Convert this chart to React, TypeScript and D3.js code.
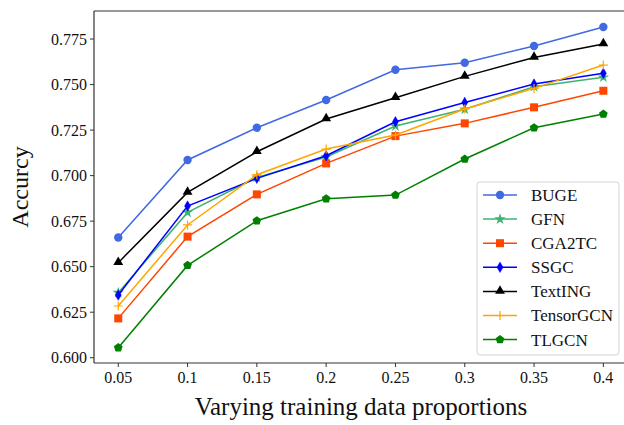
import React from "react";
import * as d3 from "d3";

const proportions = [0.05, 0.1, 0.15, 0.2, 0.25, 0.3, 0.35, 0.4];
const xTickLabels = ["0.05", "0.1", "0.15", "0.2", "0.25", "0.3", "0.35", "0.4"];
const yTicks = [0.6, 0.625, 0.65, 0.675, 0.7, 0.725, 0.75, 0.775];

const seriesNames = ["BUGE", "GFN", "CGA2TC", "SSGC", "TextING", "TensorGCN", "TLGCN"];
const BUGE = [0.666, 0.7086, 0.7263, 0.7415, 0.7581, 0.762, 0.7712, 0.7816];
const GFN = [0.6357, 0.6798, 0.699, 0.7102, 0.7272, 0.7364, 0.7488, 0.754];
const CGA2TC = [0.6216, 0.6665, 0.6897, 0.7067, 0.7217, 0.7287, 0.7375, 0.7466];
const SSGC = [0.6344, 0.6833, 0.6985, 0.7109, 0.7296, 0.7402, 0.7503, 0.7562];
const TextING = [0.6522, 0.6908, 0.7131, 0.7311, 0.7428, 0.7545, 0.7649, 0.7723];
const TensorGCN = [0.6284, 0.6729, 0.7005, 0.7146, 0.7223, 0.7366, 0.7479, 0.7607];
const TLGCN = [0.6055, 0.6507, 0.6752, 0.6873, 0.6893, 0.7091, 0.7263, 0.7338];

const seriesValues = [BUGE, GFN, CGA2TC, SSGC, TextING, TensorGCN, TLGCN];
const seriesColors = ["#4169E1", "#3CB371", "#FF4500", "#0000FF", "#000000", "#FFA500", "#008000"];
const seriesMarkers = ["circle", "star", "square", "diamond", "triangle", "plus", "pentagon"];

const W = 624;
const H = 425;
const plotLeft = 94;
const plotTop = 11;
const plotBottom = 363;
const font = "'Liberation Serif', 'Times New Roman', serif";

const x = d3.scaleLinear().domain([0.0325, 0.4175]).range([plotLeft, 627.6]);
const y = d3.scaleLinear().domain([0.5971, 0.7904]).range([plotBottom, plotTop]);

function pentagonPath(r: number) {
  const pts: string[] = [];
  for (let i = 0; i < 5; i++) {
    const a = -Math.PI / 2 + (i * 2 * Math.PI) / 5;
    pts.push(`${(r * Math.cos(a)).toFixed(2)},${(r * Math.sin(a)).toFixed(2)}`);
  }
  return "M" + pts.join("L") + "Z";
}

function Marker({ kind, color, cx, cy }: { kind: string; color: string; cx: number; cy: number }) {
  const t = `translate(${cx},${cy})`;
  if (kind === "circle") return <circle cx={cx} cy={cy} r={4.2} fill={color} />;
  if (kind === "square") return <rect x={cx - 4} y={cy - 4} width={8} height={8} fill={color} />;
  if (kind === "triangle") {
    const p = d3.symbol().type(d3.symbolTriangle).size(42)() as string;
    return <path d={p} transform={`translate(${cx},${cy - 0.5})`} fill={color} />;
  }
  if (kind === "star") {
    const p = d3.symbol().type(d3.symbolStar).size(40)() as string;
    return <path d={p} transform={t} fill={color} />;
  }
  if (kind === "diamond") {
    return (
      <path
        d={`M0,-5.2L3,0L0,5.2L-3,0Z`}
        transform={t}
        fill={color}
        stroke={color}
        strokeWidth={0.5}
      />
    );
  }
  if (kind === "plus") {
    return <path d="M-4.5,0H4.5M0,-4.5V4.5" transform={t} stroke={color} strokeWidth={1.2} fill="none" />;
  }
  if (kind === "pentagon") return <path d={pentagonPath(4.6)} transform={t} fill={color} />;
  return null;
}

export default function App() {
  const line = d3
    .line<number>()
    .x((_, i) => x(proportions[i]))
    .y((v) => y(v));

  const legendX = 477;
  const legendY = 182;
  const legendW = 142;
  const legendH = 173;
  const rowGap = 24.1;
  const firstRow = 195;

  return (
    <svg
      width={W}
      height={H}
      style={{ position: "absolute", left: 0, top: 0, background: "#fff" }}
      fontFamily={font}
    >
      <rect x={0} y={0} width={W} height={H} fill="#fff" />
      {/* series */}
      {seriesValues.map((vals, si) => (
        <g key={seriesNames[si]}>
          <path d={line(vals) as string} fill="none" stroke={seriesColors[si]} strokeWidth={1.5} />
          {vals.map((v, i) => (
            <Marker key={i} kind={seriesMarkers[si]} color={seriesColors[si]} cx={x(proportions[i])} cy={y(v)} />
          ))}
        </g>
      ))}

      {/* frame */}
      <line x1={plotLeft} y1={plotTop} x2={W} y2={plotTop} stroke="#333" strokeWidth={1.2} />
      <line x1={plotLeft} y1={plotTop} x2={plotLeft} y2={plotBottom} stroke="#333" strokeWidth={1.2} />
      <line x1={plotLeft} y1={plotBottom} x2={W} y2={plotBottom} stroke="#333" strokeWidth={1.2} />

      {/* y ticks */}
      {yTicks.map((t) => (
        <g key={t}>
          <line x1={plotLeft - 4} x2={plotLeft} y1={y(t)} y2={y(t)} stroke="#333" strokeWidth={1} />
          <text x={plotLeft - 7} y={y(t)} dy="0.35em" textAnchor="end" fontSize={16} fill="#111">
            {t.toFixed(3)}
          </text>
        </g>
      ))}

      {/* x ticks */}
      {proportions.map((p, i) => (
        <g key={p}>
          <line x1={x(p)} x2={x(p)} y1={plotBottom} y2={plotBottom + 4} stroke="#333" strokeWidth={1} />
          <text x={x(p)} y={plotBottom + 20} textAnchor="middle" fontSize={16} fill="#111">
            {xTickLabels[i]}
          </text>
        </g>
      ))}

      {/* axis labels */}
      <text x={361} y={415} textAnchor="middle" fontSize={25} fill="#111">
        Varying training data proportions
      </text>
      <text
        transform={`translate(28,${(plotTop + plotBottom) / 2}) rotate(-90)`}
        textAnchor="middle"
        fontSize={24}
        fill="#111"
      >
        Accurcy
      </text>

      {/* legend */}
      <rect
        x={legendX}
        y={legendY}
        width={legendW}
        height={legendH}
        rx={3}
        fill="#fff"
        fillOpacity={0.9}
        stroke="#d5d5d5"
        strokeWidth={1}
      />
      {seriesNames.map((name, si) => {
        const ry = firstRow + si * rowGap;
        return (
          <g key={name}>
            <line x1={483} x2={517} y1={ry} y2={ry} stroke={seriesColors[si]} strokeWidth={1.5} />
            <Marker kind={seriesMarkers[si]} color={seriesColors[si]} cx={500} cy={ry} />
            <text x={531} y={ry} dy="0.35em" fontSize={17} fill="#111">
              {name}
            </text>
          </g>
        );
      })}
    </svg>
  );
}
